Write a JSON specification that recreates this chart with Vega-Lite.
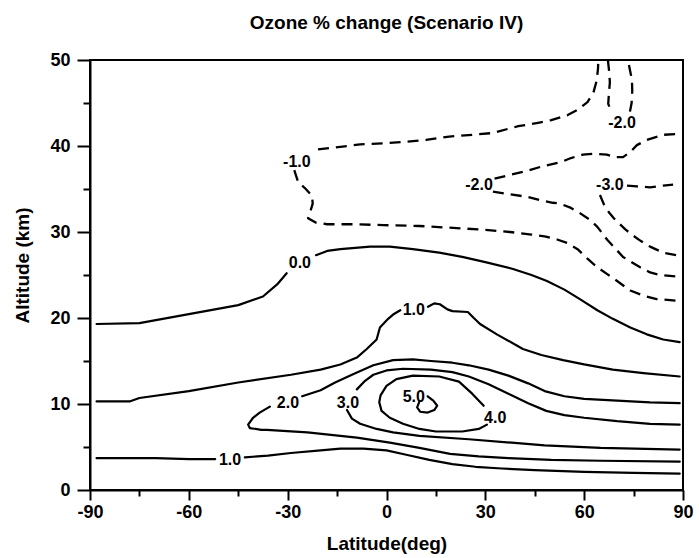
{
  "$schema": "https://vega.github.io/schema/vega-lite/v6.json",
  "width": 593,
  "height": 430,
  "autosize": {"type": "none"},
  "padding": {"left": 90, "top": 60, "right": 16, "bottom": 68},
  "background": "white",
  "config": {
    "view": {"stroke": "black", "strokeWidth": 2},
    "font": "Liberation Sans",
    "locale": {"number": {"decimal": ".", "thousands": ",", "grouping": [3], "currency": ["$", ""], "minus": "-"}}
  },
  "title": {
    "text": "Ozone % change (Scenario IV)",
    "font": "Liberation Sans",
    "fontSize": 19,
    "fontWeight": "bold",
    "color": "black",
    "anchor": "middle",
    "offset": 18
  },
  "datasets": {
    "contours": [
      {"seg": "z0a", "level": 0, "lat": -88, "alt": 19.3},
      {"seg": "z0a", "level": 0, "lat": -75, "alt": 19.4},
      {"seg": "z0a", "level": 0, "lat": -65, "alt": 20.1},
      {"seg": "z0a", "level": 0, "lat": -55, "alt": 20.8},
      {"seg": "z0a", "level": 0, "lat": -45, "alt": 21.5},
      {"seg": "z0a", "level": 0, "lat": -37.5, "alt": 22.5},
      {"seg": "z0a", "level": 0, "lat": -33.2, "alt": 23.9},
      {"seg": "z0a", "level": 0, "lat": -30.3, "alt": 25.2},
      {"seg": "z0b", "level": 0, "lat": -21.4, "alt": 27.3},
      {"seg": "z0b", "level": 0, "lat": -18, "alt": 27.8},
      {"seg": "z0b", "level": 0, "lat": -14, "alt": 28.0},
      {"seg": "z0b", "level": 0, "lat": -5, "alt": 28.3},
      {"seg": "z0b", "level": 0, "lat": 1, "alt": 28.3},
      {"seg": "z0b", "level": 0, "lat": 8, "alt": 28.0},
      {"seg": "z0b", "level": 0, "lat": 16, "alt": 27.6},
      {"seg": "z0b", "level": 0, "lat": 23, "alt": 27.1},
      {"seg": "z0b", "level": 0, "lat": 30, "alt": 26.5},
      {"seg": "z0b", "level": 0, "lat": 38.4, "alt": 25.7},
      {"seg": "z0b", "level": 0, "lat": 44, "alt": 25.0},
      {"seg": "z0b", "level": 0, "lat": 48.7, "alt": 24.3},
      {"seg": "z0b", "level": 0, "lat": 54, "alt": 23.3},
      {"seg": "z0b", "level": 0, "lat": 58.7, "alt": 22.2},
      {"seg": "z0b", "level": 0, "lat": 64, "alt": 20.9},
      {"seg": "z0b", "level": 0, "lat": 68.7, "alt": 19.9},
      {"seg": "z0b", "level": 0, "lat": 74, "alt": 18.9},
      {"seg": "z0b", "level": 0, "lat": 79, "alt": 18.1},
      {"seg": "z0b", "level": 0, "lat": 84, "alt": 17.5},
      {"seg": "z0b", "level": 0, "lat": 89, "alt": 17.2},

      {"seg": "o1c", "level": 1, "lat": -88, "alt": 10.3},
      {"seg": "o1c", "level": 1, "lat": -78, "alt": 10.3},
      {"seg": "o1c", "level": 1, "lat": -75, "alt": 10.7},
      {"seg": "o1c", "level": 1, "lat": -60, "alt": 11.5},
      {"seg": "o1c", "level": 1, "lat": -45, "alt": 12.5},
      {"seg": "o1c", "level": 1, "lat": -29, "alt": 13.4},
      {"seg": "o1c", "level": 1, "lat": -20, "alt": 14.0},
      {"seg": "o1c", "level": 1, "lat": -14, "alt": 14.6},
      {"seg": "o1c", "level": 1, "lat": -9, "alt": 15.4},
      {"seg": "o1c", "level": 1, "lat": -6, "alt": 16.4},
      {"seg": "o1c", "level": 1, "lat": -3, "alt": 17.5},
      {"seg": "o1c", "level": 1, "lat": -2, "alt": 18.9},
      {"seg": "o1c", "level": 1, "lat": 0.5, "alt": 19.9},
      {"seg": "o1c", "level": 1, "lat": 2, "alt": 20.4},
      {"seg": "o1c", "level": 1, "lat": 4.2, "alt": 20.9},
      {"seg": "o1d", "level": 1, "lat": 12.6, "alt": 21.3},
      {"seg": "o1d", "level": 1, "lat": 14.5, "alt": 21.7},
      {"seg": "o1d", "level": 1, "lat": 16.2, "alt": 21.6},
      {"seg": "o1d", "level": 1, "lat": 18.5, "alt": 21.0},
      {"seg": "o1d", "level": 1, "lat": 20, "alt": 20.8},
      {"seg": "o1d", "level": 1, "lat": 24.7, "alt": 20.7},
      {"seg": "o1d", "level": 1, "lat": 26.5, "alt": 20.0},
      {"seg": "o1d", "level": 1, "lat": 28.4, "alt": 19.3},
      {"seg": "o1d", "level": 1, "lat": 33.5, "alt": 18.1},
      {"seg": "o1d", "level": 1, "lat": 41.4, "alt": 16.4},
      {"seg": "o1d", "level": 1, "lat": 47, "alt": 15.7},
      {"seg": "o1d", "level": 1, "lat": 53.6, "alt": 15.1},
      {"seg": "o1d", "level": 1, "lat": 60, "alt": 14.6},
      {"seg": "o1d", "level": 1, "lat": 68.7, "alt": 14.0},
      {"seg": "o1d", "level": 1, "lat": 78, "alt": 13.6},
      {"seg": "o1d", "level": 1, "lat": 89, "alt": 13.2},

      {"seg": "o1a", "level": 1, "lat": -88, "alt": 3.7},
      {"seg": "o1a", "level": 1, "lat": -80, "alt": 3.7},
      {"seg": "o1a", "level": 1, "lat": -70, "alt": 3.7},
      {"seg": "o1a", "level": 1, "lat": -60, "alt": 3.6},
      {"seg": "o1a", "level": 1, "lat": -52, "alt": 3.6},
      {"seg": "o1b", "level": 1, "lat": -43, "alt": 3.8},
      {"seg": "o1b", "level": 1, "lat": -36, "alt": 4.0},
      {"seg": "o1b", "level": 1, "lat": -29, "alt": 4.3},
      {"seg": "o1b", "level": 1, "lat": -20, "alt": 4.6},
      {"seg": "o1b", "level": 1, "lat": -14, "alt": 4.8},
      {"seg": "o1b", "level": 1, "lat": -7, "alt": 4.8},
      {"seg": "o1b", "level": 1, "lat": 0, "alt": 4.6},
      {"seg": "o1b", "level": 1, "lat": 6, "alt": 4.1},
      {"seg": "o1b", "level": 1, "lat": 13, "alt": 3.5},
      {"seg": "o1b", "level": 1, "lat": 20, "alt": 3.0},
      {"seg": "o1b", "level": 1, "lat": 27, "alt": 2.7},
      {"seg": "o1b", "level": 1, "lat": 35, "alt": 2.5},
      {"seg": "o1b", "level": 1, "lat": 45, "alt": 2.3},
      {"seg": "o1b", "level": 1, "lat": 60, "alt": 2.1},
      {"seg": "o1b", "level": 1, "lat": 75, "alt": 2.0},
      {"seg": "o1b", "level": 1, "lat": 89, "alt": 1.9},

      {"seg": "t2u", "level": 2, "lat": -25.6, "alt": 10.9},
      {"seg": "t2u", "level": 2, "lat": -20, "alt": 11.6},
      {"seg": "t2u", "level": 2, "lat": -15.6, "alt": 12.5},
      {"seg": "t2u", "level": 2, "lat": -10, "alt": 13.5},
      {"seg": "t2u", "level": 2, "lat": -4, "alt": 14.5},
      {"seg": "t2u", "level": 2, "lat": 2, "alt": 15.1},
      {"seg": "t2u", "level": 2, "lat": 8, "alt": 15.2},
      {"seg": "t2u", "level": 2, "lat": 13.5, "alt": 15.0},
      {"seg": "t2u", "level": 2, "lat": 20, "alt": 14.8},
      {"seg": "t2u", "level": 2, "lat": 25, "alt": 14.5},
      {"seg": "t2u", "level": 2, "lat": 31, "alt": 14.0},
      {"seg": "t2u", "level": 2, "lat": 37, "alt": 13.3},
      {"seg": "t2u", "level": 2, "lat": 43, "alt": 12.4},
      {"seg": "t2u", "level": 2, "lat": 48, "alt": 11.5},
      {"seg": "t2u", "level": 2, "lat": 54, "alt": 10.9},
      {"seg": "t2u", "level": 2, "lat": 60, "alt": 10.6},
      {"seg": "t2u", "level": 2, "lat": 70, "alt": 10.4},
      {"seg": "t2u", "level": 2, "lat": 80, "alt": 10.2},
      {"seg": "t2u", "level": 2, "lat": 89, "alt": 10.1},
      {"seg": "t2l", "level": 2, "lat": -35.4, "alt": 9.7},
      {"seg": "t2l", "level": 2, "lat": -38.5, "alt": 9.0},
      {"seg": "t2l", "level": 2, "lat": -40.5, "alt": 8.4},
      {"seg": "t2l", "level": 2, "lat": -42, "alt": 7.6},
      {"seg": "t2l", "level": 2, "lat": -41.5, "alt": 7.2},
      {"seg": "t2l", "level": 2, "lat": -38, "alt": 7.0},
      {"seg": "t2l", "level": 2, "lat": -36.3, "alt": 7.0},
      {"seg": "t2l", "level": 2, "lat": -24, "alt": 6.7},
      {"seg": "t2l", "level": 2, "lat": -9, "alt": 6.1},
      {"seg": "t2l", "level": 2, "lat": 1, "alt": 5.5},
      {"seg": "t2l", "level": 2, "lat": 10, "alt": 4.9},
      {"seg": "t2l", "level": 2, "lat": 19.3, "alt": 4.2},
      {"seg": "t2l", "level": 2, "lat": 28, "alt": 3.9},
      {"seg": "t2l", "level": 2, "lat": 37, "alt": 3.7},
      {"seg": "t2l", "level": 2, "lat": 50, "alt": 3.5},
      {"seg": "t2l", "level": 2, "lat": 65, "alt": 3.4},
      {"seg": "t2l", "level": 2, "lat": 89, "alt": 3.3},

      {"seg": "t3u", "level": 3, "lat": -9, "alt": 11.7},
      {"seg": "t3u", "level": 3, "lat": -6.5, "alt": 12.7},
      {"seg": "t3u", "level": 3, "lat": -4, "alt": 13.4},
      {"seg": "t3u", "level": 3, "lat": 0, "alt": 13.9},
      {"seg": "t3u", "level": 3, "lat": 5, "alt": 14.1},
      {"seg": "t3u", "level": 3, "lat": 13.5, "alt": 14.0},
      {"seg": "t3u", "level": 3, "lat": 20, "alt": 13.7},
      {"seg": "t3u", "level": 3, "lat": 25, "alt": 13.2},
      {"seg": "t3u", "level": 3, "lat": 31, "alt": 12.3},
      {"seg": "t3u", "level": 3, "lat": 37, "alt": 11.2},
      {"seg": "t3u", "level": 3, "lat": 43, "alt": 10.1},
      {"seg": "t3u", "level": 3, "lat": 48.5, "alt": 9.2},
      {"seg": "t3u", "level": 3, "lat": 54, "alt": 8.7},
      {"seg": "t3u", "level": 3, "lat": 60, "alt": 8.4},
      {"seg": "t3u", "level": 3, "lat": 70, "alt": 8.0},
      {"seg": "t3u", "level": 3, "lat": 80, "alt": 7.7},
      {"seg": "t3u", "level": 3, "lat": 89, "alt": 7.6},
      {"seg": "t3l", "level": 3, "lat": -12, "alt": 9.3},
      {"seg": "t3l", "level": 3, "lat": -10.5, "alt": 8.3},
      {"seg": "t3l", "level": 3, "lat": -8, "alt": 7.7},
      {"seg": "t3l", "level": 3, "lat": -3, "alt": 7.1},
      {"seg": "t3l", "level": 3, "lat": 2, "alt": 6.7},
      {"seg": "t3l", "level": 3, "lat": 10, "alt": 6.3},
      {"seg": "t3l", "level": 3, "lat": 25, "alt": 5.9},
      {"seg": "t3l", "level": 3, "lat": 38, "alt": 5.5},
      {"seg": "t3l", "level": 3, "lat": 48, "alt": 5.2},
      {"seg": "t3l", "level": 3, "lat": 65, "alt": 4.9},
      {"seg": "t3l", "level": 3, "lat": 89, "alt": 4.7},

      {"seg": "f4", "level": 4, "lat": 29.5, "alt": 9.8},
      {"seg": "f4", "level": 4, "lat": 26, "alt": 11.2},
      {"seg": "f4", "level": 4, "lat": 22, "alt": 12.6},
      {"seg": "f4", "level": 4, "lat": 16, "alt": 13.2},
      {"seg": "f4", "level": 4, "lat": 8, "alt": 13.3},
      {"seg": "f4", "level": 4, "lat": 3, "alt": 12.9},
      {"seg": "f4", "level": 4, "lat": 0, "alt": 12.1},
      {"seg": "f4", "level": 4, "lat": -1.8, "alt": 11.0},
      {"seg": "f4", "level": 4, "lat": -2.2, "alt": 10.2},
      {"seg": "f4", "level": 4, "lat": -1.5, "alt": 9.2},
      {"seg": "f4", "level": 4, "lat": 1, "alt": 8.4},
      {"seg": "f4", "level": 4, "lat": 5, "alt": 7.7},
      {"seg": "f4", "level": 4, "lat": 10, "alt": 7.1},
      {"seg": "f4", "level": 4, "lat": 15, "alt": 6.8},
      {"seg": "f4", "level": 4, "lat": 23, "alt": 6.8},
      {"seg": "f4", "level": 4, "lat": 28, "alt": 7.1},
      {"seg": "f4", "level": 4, "lat": 30.5, "alt": 7.6},

      {"seg": "f5", "level": 5, "lat": 10.0, "alt": 10.3},
      {"seg": "f5", "level": 5, "lat": 9.3, "alt": 9.6},
      {"seg": "f5", "level": 5, "lat": 10.2, "alt": 9.1},
      {"seg": "f5", "level": 5, "lat": 12.5, "alt": 9.0},
      {"seg": "f5", "level": 5, "lat": 14.5, "alt": 9.3},
      {"seg": "f5", "level": 5, "lat": 15.4, "alt": 9.8},
      {"seg": "f5", "level": 5, "lat": 14.2, "alt": 10.4},
      {"seg": "f5", "level": 5, "lat": 12.5, "alt": 10.9},

      {"seg": "n1a", "level": -1, "lat": -20.8, "alt": 39.6},
      {"seg": "n1a", "level": -1, "lat": -14, "alt": 39.9},
      {"seg": "n1a", "level": -1, "lat": -8, "alt": 40.2},
      {"seg": "n1a", "level": -1, "lat": -1, "alt": 40.3},
      {"seg": "n1a", "level": -1, "lat": 6, "alt": 40.5},
      {"seg": "n1a", "level": -1, "lat": 12, "alt": 40.7},
      {"seg": "n1a", "level": -1, "lat": 19, "alt": 41.1},
      {"seg": "n1a", "level": -1, "lat": 26, "alt": 41.3},
      {"seg": "n1a", "level": -1, "lat": 32, "alt": 41.5},
      {"seg": "n1a", "level": -1, "lat": 40, "alt": 42.3},
      {"seg": "n1a", "level": -1, "lat": 46, "alt": 42.7},
      {"seg": "n1a", "level": -1, "lat": 50, "alt": 43.0},
      {"seg": "n1a", "level": -1, "lat": 55, "alt": 43.6},
      {"seg": "n1a", "level": -1, "lat": 58, "alt": 44.2},
      {"seg": "n1a", "level": -1, "lat": 61, "alt": 45.1},
      {"seg": "n1a", "level": -1, "lat": 62.8, "alt": 46.2},
      {"seg": "n1a", "level": -1, "lat": 63.8, "alt": 47.6},
      {"seg": "n1a", "level": -1, "lat": 64.2, "alt": 49.0},
      {"seg": "n1a", "level": -1, "lat": 64.3, "alt": 50},
      {"seg": "n1b", "level": -1, "lat": -28, "alt": 37.2},
      {"seg": "n1b", "level": -1, "lat": -26.8, "alt": 35.8},
      {"seg": "n1b", "level": -1, "lat": -24.5, "alt": 35.0},
      {"seg": "n1b", "level": -1, "lat": -22.6, "alt": 34.2},
      {"seg": "n1b", "level": -1, "lat": -22.4, "alt": 33.3},
      {"seg": "n1b", "level": -1, "lat": -23.2, "alt": 32.3},
      {"seg": "n1b", "level": -1, "lat": -23.8, "alt": 31.6},
      {"seg": "n1b", "level": -1, "lat": -21.5, "alt": 31.1},
      {"seg": "n1b", "level": -1, "lat": -18, "alt": 30.9},
      {"seg": "n1b", "level": -1, "lat": -10, "alt": 30.9},
      {"seg": "n1b", "level": -1, "lat": -1, "alt": 30.8},
      {"seg": "n1b", "level": -1, "lat": 10, "alt": 30.7},
      {"seg": "n1b", "level": -1, "lat": 19, "alt": 30.5},
      {"seg": "n1b", "level": -1, "lat": 28, "alt": 30.3},
      {"seg": "n1b", "level": -1, "lat": 37.5, "alt": 30.0},
      {"seg": "n1b", "level": -1, "lat": 44, "alt": 29.7},
      {"seg": "n1b", "level": -1, "lat": 48, "alt": 29.5},
      {"seg": "n1b", "level": -1, "lat": 52, "alt": 29.1},
      {"seg": "n1b", "level": -1, "lat": 55, "alt": 28.7},
      {"seg": "n1b", "level": -1, "lat": 58, "alt": 28.0},
      {"seg": "n1b", "level": -1, "lat": 61, "alt": 26.9},
      {"seg": "n1b", "level": -1, "lat": 64, "alt": 25.9},
      {"seg": "n1b", "level": -1, "lat": 67, "alt": 25.1},
      {"seg": "n1b", "level": -1, "lat": 70, "alt": 24.3},
      {"seg": "n1b", "level": -1, "lat": 74, "alt": 23.2},
      {"seg": "n1b", "level": -1, "lat": 78, "alt": 22.6},
      {"seg": "n1b", "level": -1, "lat": 82, "alt": 22.2},
      {"seg": "n1b", "level": -1, "lat": 88.5, "alt": 22.0},

      {"seg": "n2a", "level": -2, "lat": 32.8, "alt": 36.2},
      {"seg": "n2a", "level": -2, "lat": 37, "alt": 36.6},
      {"seg": "n2a", "level": -2, "lat": 42.6, "alt": 37.1},
      {"seg": "n2a", "level": -2, "lat": 47, "alt": 37.6},
      {"seg": "n2a", "level": -2, "lat": 52.7, "alt": 38.1},
      {"seg": "n2a", "level": -2, "lat": 56, "alt": 38.6},
      {"seg": "n2a", "level": -2, "lat": 59.6, "alt": 39.0},
      {"seg": "n2a", "level": -2, "lat": 63, "alt": 39.1},
      {"seg": "n2a", "level": -2, "lat": 66.9, "alt": 39.0},
      {"seg": "n2a", "level": -2, "lat": 69.5, "alt": 38.7},
      {"seg": "n2a", "level": -2, "lat": 71.8, "alt": 38.7},
      {"seg": "n2a", "level": -2, "lat": 74, "alt": 39.3},
      {"seg": "n2a", "level": -2, "lat": 76, "alt": 40.1},
      {"seg": "n2a", "level": -2, "lat": 79, "alt": 40.7},
      {"seg": "n2a", "level": -2, "lat": 84, "alt": 41.3},
      {"seg": "n2a", "level": -2, "lat": 88.5, "alt": 41.4},
      {"seg": "n2b", "level": -2, "lat": 32.3, "alt": 34.7},
      {"seg": "n2b", "level": -2, "lat": 37, "alt": 34.4},
      {"seg": "n2b", "level": -2, "lat": 42.6, "alt": 34.1},
      {"seg": "n2b", "level": -2, "lat": 46.6, "alt": 33.7},
      {"seg": "n2b", "level": -2, "lat": 50.5, "alt": 33.4},
      {"seg": "n2b", "level": -2, "lat": 52.7, "alt": 33.3},
      {"seg": "n2b", "level": -2, "lat": 56, "alt": 32.8},
      {"seg": "n2b", "level": -2, "lat": 58.7, "alt": 32.2},
      {"seg": "n2b", "level": -2, "lat": 61.8, "alt": 31.4},
      {"seg": "n2b", "level": -2, "lat": 64, "alt": 30.6},
      {"seg": "n2b", "level": -2, "lat": 67, "alt": 29.1},
      {"seg": "n2b", "level": -2, "lat": 69.4, "alt": 28.1},
      {"seg": "n2b", "level": -2, "lat": 71.8, "alt": 27.1},
      {"seg": "n2b", "level": -2, "lat": 74.8, "alt": 26.4},
      {"seg": "n2b", "level": -2, "lat": 77, "alt": 25.9},
      {"seg": "n2b", "level": -2, "lat": 80, "alt": 25.3},
      {"seg": "n2b", "level": -2, "lat": 83, "alt": 25.0},
      {"seg": "n2b", "level": -2, "lat": 88.5, "alt": 24.8},
      {"seg": "n2c", "level": -2, "lat": 67.2, "alt": 50},
      {"seg": "n2c", "level": -2, "lat": 67.6, "alt": 48.6},
      {"seg": "n2c", "level": -2, "lat": 67.8, "alt": 47.4},
      {"seg": "n2c", "level": -2, "lat": 67.5, "alt": 46.0},
      {"seg": "n2c", "level": -2, "lat": 67.3, "alt": 44.9},
      {"seg": "n2c", "level": -2, "lat": 68.4, "alt": 43.9},
      {"seg": "n2d", "level": -2, "lat": 73.9, "alt": 44.0},
      {"seg": "n2d", "level": -2, "lat": 74.4, "alt": 45.0},
      {"seg": "n2d", "level": -2, "lat": 74.6, "alt": 46.4},
      {"seg": "n2d", "level": -2, "lat": 74.5, "alt": 47.7},
      {"seg": "n2d", "level": -2, "lat": 73.8, "alt": 49.0},
      {"seg": "n2d", "level": -2, "lat": 73.3, "alt": 50},

      {"seg": "n3a", "level": -3, "lat": 73, "alt": 35.4},
      {"seg": "n3a", "level": -3, "lat": 76, "alt": 35.3},
      {"seg": "n3a", "level": -3, "lat": 80, "alt": 35.2},
      {"seg": "n3a", "level": -3, "lat": 84, "alt": 35.4},
      {"seg": "n3a", "level": -3, "lat": 87, "alt": 35.5},
      {"seg": "n3b", "level": -3, "lat": 64.8, "alt": 34.3},
      {"seg": "n3b", "level": -3, "lat": 66, "alt": 33.2},
      {"seg": "n3b", "level": -3, "lat": 67.5, "alt": 32.3},
      {"seg": "n3b", "level": -3, "lat": 69, "alt": 31.6},
      {"seg": "n3b", "level": -3, "lat": 70.6, "alt": 31.0},
      {"seg": "n3b", "level": -3, "lat": 72.5, "alt": 30.3},
      {"seg": "n3b", "level": -3, "lat": 74.8, "alt": 29.6},
      {"seg": "n3b", "level": -3, "lat": 77, "alt": 29.0},
      {"seg": "n3b", "level": -3, "lat": 80, "alt": 28.3},
      {"seg": "n3b", "level": -3, "lat": 84, "alt": 27.6},
      {"seg": "n3b", "level": -3, "lat": 88, "alt": 27.3}
    ],
    "labels": [
      {"level": 0, "lat": -26.3, "alt": 26.4},
      {"level": 1, "lat": 8.3, "alt": 20.9},
      {"level": 1, "lat": -47.5, "alt": 3.5},
      {"level": 2, "lat": -29.9, "alt": 10.1},
      {"level": 3, "lat": -11.7, "alt": 10.1},
      {"level": 4, "lat": 33.0, "alt": 8.4},
      {"level": 5, "lat": 8.3, "alt": 10.8},
      {"level": -1, "lat": -27.2, "alt": 38.1},
      {"level": -2, "lat": 28.1, "alt": 35.5},
      {"level": -2, "lat": 71.5, "alt": 42.7},
      {"level": -3, "lat": 67.8, "alt": 35.5}
    ]
  },
  "encoding": {
    "x": {
      "field": "lat",
      "type": "quantitative",
      "scale": {"domain": [-90, 90], "nice": false, "zero": false},
      "axis": {
        "title": "Latitude(deg)",
        "values": [-90, -75, -60, -45, -30, -15, 0, 15, 30, 45, 60, 75, 90],
        "labelExpr": "datum.value % 30 === 0 ? datum.label : ''",
        "tickSize": {"condition": {"test": "datum.value % 30 === 0", "value": 10}, "value": 6},
        "grid": false,
        "labelFlush": false,
        "labelOverlap": false,
        "labelFont": "Liberation Sans",
        "labelFontSize": 18,
        "labelFontWeight": "bold",
        "labelColor": "black",
        "labelPadding": 3,
        "domainColor": "black",
        "domainWidth": 2,
        "tickColor": "black",
        "tickWidth": 2,
        "titleFont": "Liberation Sans",
        "titleFontSize": 19,
        "titleFontWeight": "bold",
        "titleColor": "black",
        "titleY": 59,
        "titleBaseline": "alphabetic"
      }
    },
    "y": {
      "field": "alt",
      "type": "quantitative",
      "scale": {"domain": [0, 50], "nice": false},
      "axis": {
        "title": "Altitude (km)",
        "values": [0, 5, 10, 15, 20, 25, 30, 35, 40, 45, 50],
        "labelExpr": "datum.value % 10 === 0 ? datum.label : ''",
        "tickSize": {"condition": {"test": "datum.value % 10 === 0", "value": 13}, "value": 7},
        "grid": false,
        "labelOverlap": false,
        "labelFont": "Liberation Sans",
        "labelFontSize": 18,
        "labelFontWeight": "bold",
        "labelColor": "black",
        "labelPadding": 7,
        "domainColor": "black",
        "domainWidth": 2,
        "tickColor": "black",
        "tickWidth": 2,
        "titleFont": "Liberation Sans",
        "titleFontSize": 19,
        "titleFontWeight": "bold",
        "titleColor": "black",
        "titleX": -68,
        "titleY": 205,
        "titleAngle": -90,
        "titleAlign": "center",
        "titleBaseline": "middle"
      }
    }
  },
  "layer": [
    {
      "data": {"name": "contours"},
      "transform": [{"filter": "datum.level >= 0"}],
      "mark": {"type": "line", "color": "black", "strokeWidth": 2.2, "strokeJoin": "round", "strokeCap": "round"},
      "encoding": {
        "detail": {"field": "seg", "type": "nominal"},
        "order": {"value": null}
      }
    },
    {
      "data": {"name": "contours"},
      "transform": [{"filter": "datum.level < 0"}],
      "mark": {"type": "line", "color": "black", "strokeWidth": 2.3, "strokeDash": [11, 7], "strokeJoin": "round"},
      "encoding": {
        "detail": {"field": "seg", "type": "nominal"},
        "order": {"value": null}
      }
    },
    {
      "data": {"name": "labels"},
      "mark": {"type": "text", "font": "Liberation Sans", "fontSize": 16, "fontWeight": "bold", "color": "black", "align": "center", "baseline": "middle"},
      "encoding": {
        "text": {"field": "level", "type": "quantitative", "format": ".1f"}
      }
    }
  ]
}
